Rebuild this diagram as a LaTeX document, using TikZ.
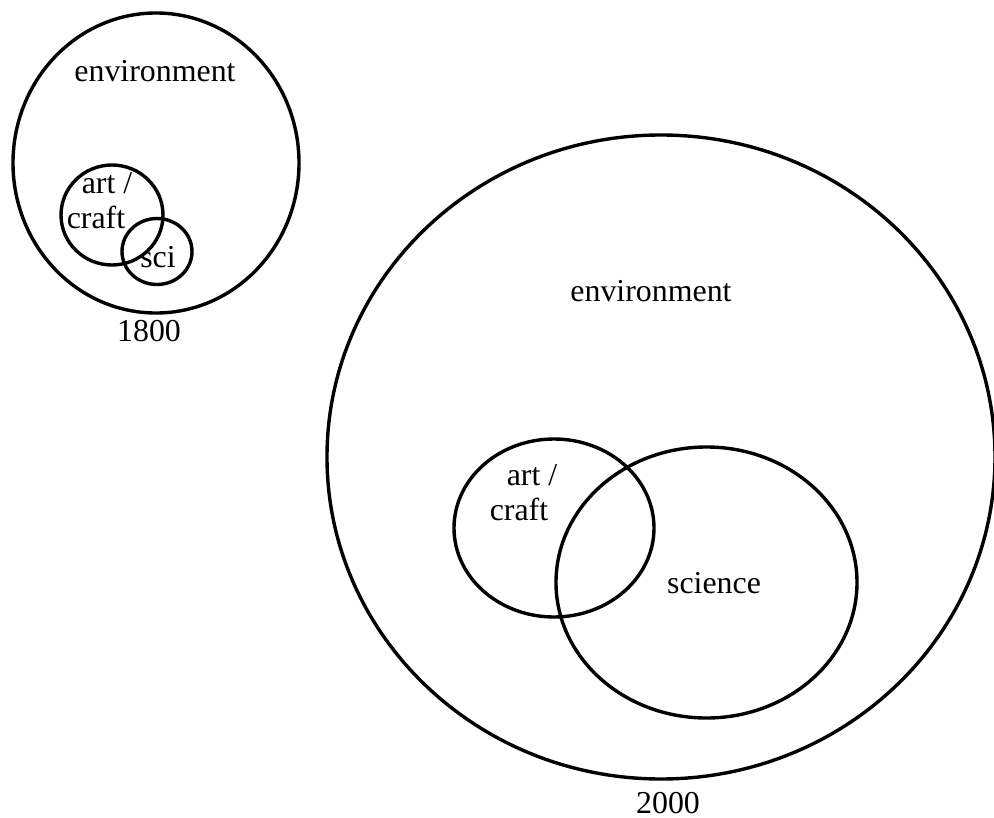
\documentclass[tikz,border=0pt]{standalone}
\usepackage{fontspec}
\setmainfont{Liberation Serif}
\usetikzlibrary{shapes.geometric}
\begin{document}
\begin{tikzpicture}[x=1bp,y=-1bp,
  set/.style={draw=black, line width=3.4bp, ellipse, inner sep=0pt},
  lbl/.style={anchor=base, inner sep=0pt, font=\fontsize{32}{35}\selectfont}]
\useasboundingbox (0,0) rectangle (994,818);
% 1800
\node[set, minimum width=286bp, minimum height=300bp] (env1) at (156,163) {};
\node[set, minimum width=102bp, minimum height=100bp] (art1) at (112,215) {};
\node[set, minimum width=70bp, minimum height=66bp] (sci1) at (157,251.5) {};
\node[lbl] (tenv1) at (155,82) {environment};
\node[lbl] (tart1) at (107,193) {art /};
\node[lbl] (tcraft1) at (96,228) {craft};
\node[lbl] (tsci1) at (158,267) {sci};
\node[lbl] (y1800) at (149,341) {1800};
% 2000
\node[set, minimum width=668bp, minimum height=644bp] (env2) at (661,457) {};
\node[set, minimum width=200bp, minimum height=178bp] (art2) at (554,528) {};
\node[set, minimum width=301bp, minimum height=271bp] (sci2) at (706.5,582.5) {};
\node[lbl] (tenv2) at (651,301) {environment};
\node[lbl] (tart2) at (532,485) {art /};
\node[lbl] (tcraft2) at (519,520) {craft};
\node[lbl] (tsci2) at (714,593) {science};
\node[lbl] (y2000) at (668,813) {2000};
\end{tikzpicture}
\end{document}
